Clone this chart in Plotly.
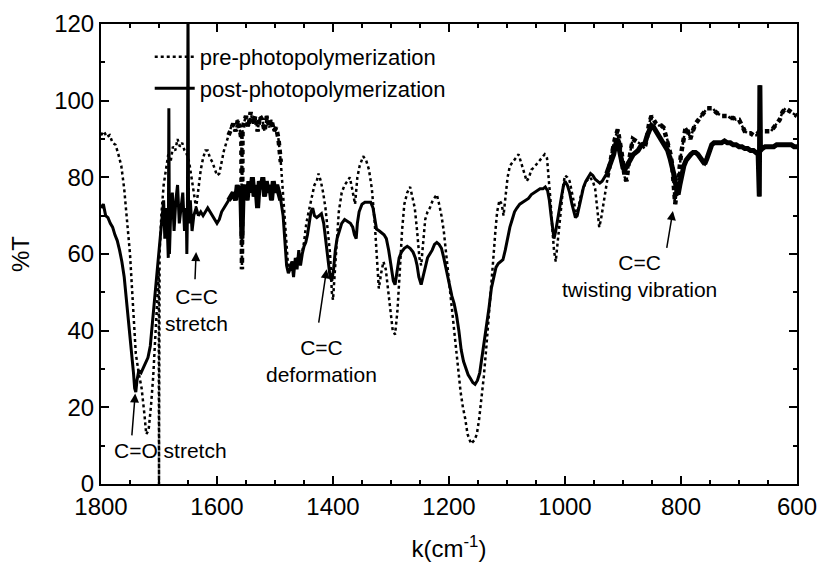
import plotly.graph_objects as go

# ---------------- data ----------------
pre_k = [1800,1795,1790,1785,1780,1775,1770,1765,1760,1755,1750,1745,1740,1735,1730,1725,1722,1718,1714,1710,1706,1703,1701,1700.5,1700,1699.5,1699,1696,1692,1688,1684,1680,1676,1672,1668,1664,1660,1656,1652,1648,1644,1640,1636,1632,1628,1624,1620,1616,1612,1608,1604,1600,1596,1592,1588,1584,1580,1576,1572,1568,1564,1560,1558,1557,1556,1554,1550,1546,1542,1538,1534,1530,1526,1522,1518,1514,1510,1506,1502,1498,1494,1490,1486,1482,1478,1474,1470,1466,1462,1458,1454,1450,1446,1442,1437,1432,1428,1425,1421,1417,1413,1409,1405,1402,1400,1397,1394,1390,1385,1380,1375,1371,1367,1362,1358,1354,1348,1343,1338,1333,1328,1324,1321,1317,1313,1309,1305,1301,1297,1293,1289,1285,1281,1277,1272,1267,1263,1259,1255,1251,1248,1245,1241,1237,1233,1228,1224,1221,1217,1213,1209,1205,1201,1197,1193,1189,1185,1180,1176,1172,1168,1162,1156,1152,1148,1144,1140,1136,1132,1128,1124,1120,1117,1113,1109,1106,1103,1099,1095,1090,1085,1080,1076,1072,1066,1062,1058,1054,1049,1045,1040,1035,1031,1028,1025,1022,1019,1016,1013,1010,1006,1003,1000,996,992,988,984,980,977,973,969,963,957,952,948,944,941,938,935,931,927,923,919,914,909,905,901,897,894,890,886,883,878,873,868,863,859,855,851,847,843,838,834,830,826,822,818,815,812,810,807,804,800,796,792,788,784,780,775,770,765,760,755,750,745,740,735,730,725,720,715,710,705,700,695,690,685,680,675,670,665,660,655,650,645,640,635,630,625,620,615,610,605,600]
pre_T = [91,92,90.5,91,89,88.5,86,83,77,69,60,47,34,29,25,18,13,14,20,28,38,48,55,56,0,58,60,70,78,82,86,84,88,87,90,88,89,87,86,84,80,75,72,77,82,85,87,87,85,84,82,80.5,81,84,87,89,91,93,94,92,95,92,90,56,92,94,96,93,97,94,96,92,96,95,92,96,93,95,92,93,90,84,76,66,58,56,58,57,59,58,60,63,68,71,75,78,79,81,79,76,72,66,60,50,48,55,63,71,76,78,79,80,77,73,80,83,85.5,84.5,82,77,68,57,51,55,58,56,51,45,40,39,45,55,66,73,76,77.5,75,72,66,59,57,62,69,71,72,74,75,75.5,73,70,66,60,55,49,43,37,30,24,20,17,13,10.5,11.5,13,17,22,28,35,42,49,58,66,71,74,73,70,75,80,83,84,85,86,84,82,79,80,82,82.5,83.5,84,85,86,85,80,74,67,61,58,62,67,73,78,80.5,80,79,76,73,70,72,75,77,79,80,79,77,72,67,69,72,76,80,83,87,90,92.5,89,85,80,79,84,88,90,89.5,89,88.5,87.5,90,94,96,95,94,93.5,93.5,93,91,89,86,83,76,73,77,80,86,90,93,92,90,92,94,95,96,97,98,98,98,97,96.5,96,96,96,95.5,95.5,95,95,93.5,92,91.5,91.5,91,91,92,92,92,92,92,93,94,95,97,98,97.5,97,96.5,96]

post_k = [1800,1796,1792,1788,1784,1780,1776,1772,1768,1764,1760,1756,1752,1748,1744,1742,1740,1738,1735,1731,1727,1723,1719,1715,1712,1709,1706,1703,1700,1697,1694,1692,1690,1688,1686,1684,1683,1682,1680,1677,1674,1671,1668,1665,1662,1659,1656,1653,1652,1651,1650,1649,1646,1643,1640,1636,1632,1628,1624,1620,1616,1612,1608,1604,1600,1596,1592,1588,1584,1580,1576,1572,1568,1565,1562,1559,1557,1555,1551,1548,1545,1542,1539,1536,1533,1530,1527,1524,1521,1518,1515,1512,1509,1506,1503,1500,1497,1494,1490,1486,1483,1480,1477,1474,1471,1468,1465,1462,1459,1456,1453,1450,1447,1444,1441,1438,1435,1432,1428,1424,1420,1416,1413,1410,1407,1405,1402,1399,1396,1393,1389,1385,1380,1375,1370,1366,1363,1360,1358,1355,1350,1345,1340,1335,1331,1328,1325,1320,1316,1312,1308,1304,1300,1296,1293,1290,1286,1282,1277,1272,1267,1262,1258,1255,1252,1248,1245,1241,1237,1233,1229,1225,1221,1217,1213,1209,1205,1201,1198,1195,1191,1187,1183,1179,1175,1171,1167,1163,1159,1155,1151,1147,1143,1139,1135,1131,1127,1123,1119,1115,1111,1107,1103,1099,1095,1091,1087,1083,1078,1073,1068,1063,1058,1053,1048,1043,1038,1034,1030,1027,1024,1021,1019,1016,1013,1010,1006,1003,1000,996,992,988,985,982,979,976,972,968,964,960,956,952,948,944,940,936,932,928,924,920,916,912,909,906,903,900,897,894,890,886,882,878,874,870,866,862,858,854,851,847,843,839,835,831,827,823,819,815,811,808,805,802,799,795,791,787,783,779,775,771,767,763,759,755,751,747,743,739,735,730,725,720,715,710,705,700,695,690,685,680,675,670,667,665,664,663,660,655,650,645,640,635,630,625,620,615,610,605,600]
post_T = [72,73,70,69.5,68,67,65,63.5,61,58,54,48,42,35,29,25,24,27,29.5,29,30.5,31.5,33,36,41,46,51,55,62,66,70,74,64,72,68,59,98,60,70,76,66,74,78,68,72,76,66,72,60,70,125,68,74,66,70,72,70,71,70,71,72,71,70,69,68,69,71,72,73,74,75,76,74,78,75,77,64,76,78,74,79,76,80,75,78,72,79,77,80,75,79,76,78,74,79,76,78,76,74,70,64,57,55,56,58,54,59,56,61,57,60,62,63,65,68,71,72,70,69.5,70,70.5,68,64,60,56,54,53,56,61,64,66,68,69,68.5,68,67,65,64,68,71,73,73.5,73.5,73.5,72,69,66.5,66,65.5,65,64,61,57,53,52,55,59,60.5,61.5,62,61.5,60.5,59,57,54,52,54,57,59,60,61,62.5,63,62.5,61.5,59,56,53,51.5,49,47,44,40,35,32,30,28.5,27.5,26.5,26,27,29,33,37,42,46,51,54,56.5,57.5,58,58.5,61,64,67,69,71,72,73,73.5,74,74.5,75.5,76,76.5,77,77,77.5,76.5,74,70,66,64,66,69,72,75,77.5,79,78,76,73,71,69.5,70,72,75,77.5,79,80,81,80.5,79.5,79,78.5,79,80,81,82.5,84,86,89,90,87,84,82.5,82,83,84,85,86,86.5,87,88,88.5,89,91,93,93.5,93,92,91,90,89,88,87,85,83,80,77,75.5,78,81,83,84.5,85.5,86,86.5,86.5,86,85,84,83.5,85,87,88.5,89,89,89,89,89.5,89,89,88.5,88.5,88,88,87.5,87.5,87,87,86.5,86,75,104,87,87.5,88,88,88,88,88.5,88.5,88.5,88.5,88.5,88.5,88,88]

x_ticks = [1800, 1600, 1400, 1200, 1000, 800, 600]
y_ticks = [0, 20, 40, 60, 80, 100, 120]

# wavenumber ranges where the recorded spectra are visibly noisy (drawn as a thicker band)
noisy_ranges = [(1580, 1490), (930, 600)]

FONT = "Liberation Sans, Arial, Helvetica, sans-serif"


def segment(ks, ts, hi, lo):
    sk, st = [], []
    for k, t in zip(ks, ts):
        if lo <= k <= hi:
            sk.append(k)
            st.append(t)
    return sk, st


fig = go.Figure()
fig.add_trace(go.Scatter(x=pre_k, y=pre_T, mode="lines", name="pre-photopolymerization",
                         line=dict(color="black", width=2.5, dash="dot")))
fig.add_trace(go.Scatter(x=post_k, y=post_T, mode="lines", name="post-photopolymerization",
                         line=dict(color="black", width=3)))
for hi, lo in noisy_ranges:
    sk, st = segment(pre_k, pre_T, hi, lo)
    fig.add_trace(go.Scatter(x=sk, y=st, mode="lines", showlegend=False, hoverinfo="skip",
                             line=dict(color="black", width=4.5, dash="dot")))
    sk, st = segment(post_k, post_T, hi, lo)
    fig.add_trace(go.Scatter(x=sk, y=st, mode="lines", showlegend=False, hoverinfo="skip",
                             line=dict(color="black", width=5)))

# text labels
labels = [
    ("C=C<br>stretch", 1636, 45.5),
    ("C=O stretch", 1681, 8.8),
    ("C=C<br>deformation", 1419, 32),
    ("C=C<br>twisting vibration", 872, 54.3),
]
for txt, kx, ty in labels:
    fig.add_annotation(x=kx, y=ty, xref="x", yref="y", text=txt, showarrow=False,
                       font=dict(family=FONT, size=21, color="black"))

# arrows (tip, tail) in data coordinates
arrows = [
    (1636, 60.5, 1638, 53),
    (1741, 23.6, 1747, 12.3),
    (1411, 56, 1425, 41.7),
    (814, 71.2, 825, 61.2),
]
for kx, ty, ax, ay in arrows:
    fig.add_annotation(x=kx, y=ty, ax=ax, ay=ay, xref="x", yref="y", axref="x", ayref="y",
                       text="", showarrow=True, arrowhead=2, arrowsize=1.2, arrowwidth=1.5,
                       arrowcolor="black")

axis_common = dict(showgrid=False, zeroline=False, showline=True, linecolor="black", linewidth=2,
                   mirror="allticks", ticks="inside", ticklen=8, tickwidth=2, tickcolor="black",
                   tickfont=dict(family=FONT, size=24, color="black"))

fig.update_xaxes(range=[1800, 600], tickvals=x_ticks, ticktext=[str(v) for v in x_ticks],
                 minor=dict(dtick=50, tick0=600, ticks="inside", ticklen=4, tickwidth=1.5, tickcolor="black"),
                 ticklabelstandoff=0, ticklabeloverflow="allow",
                 title=dict(text="k(cm<sup>-1</sup>)", font=dict(family=FONT, size=24, color="black"), standoff=21),
                 **axis_common)
fig.update_yaxes(range=[0, 120], tickvals=y_ticks, ticktext=[str(v) for v in y_ticks],
                 minor=dict(dtick=10, tick0=0, ticks="inside", ticklen=4, tickwidth=1.5, tickcolor="black"),
                 title=dict(text="%T", font=dict(family=FONT, size=24, color="black"), standoff=18),
                 **axis_common)

fig.update_layout(
    width=820, height=566,
    margin=dict(l=101, r=23, t=24, b=82, autoexpand=False),
    paper_bgcolor="white", plot_bgcolor="white",
    font=dict(family=FONT, color="black"),
    showlegend=True,
    legend=dict(x=0.07, y=0.974, xanchor="left", yanchor="top", bgcolor="rgba(0,0,0,0)",
                font=dict(family=FONT, size=22, color="black"), itemwidth=40,
                tracegroupgap=0),
)

fig.write_html("out.html", config={"displayModeBar": False},
               post_script="document.body.style.margin='0';document.body.style.overflow='hidden';")
